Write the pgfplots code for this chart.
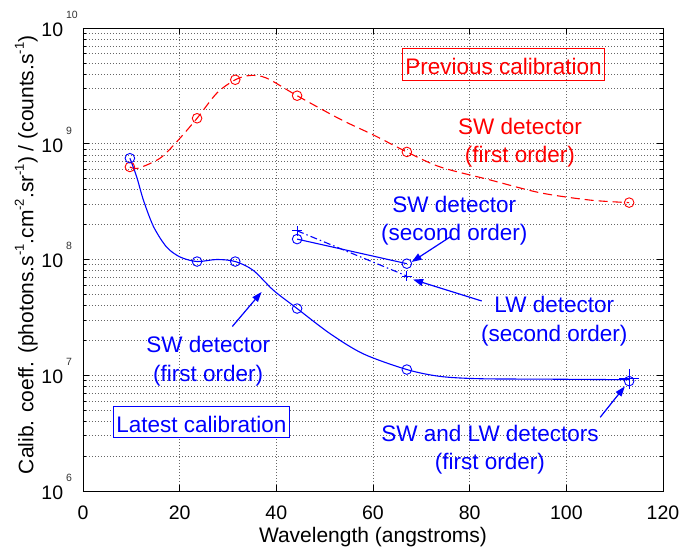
\documentclass[border=0pt]{standalone}
\usepackage{fontspec}
\setmainfont{Liberation Sans}
\usepackage{pgfplots}
\pgfplotsset{compat=1.18}
\usetikzlibrary{arrows.meta}

\definecolor{mred}{RGB}{255,0,0}
\definecolor{mblue}{RGB}{0,0,255}

% 10 with a raised exponent, hung to the right of the label anchor
\newcommand{\expo}[1]{10\rlap{\hspace{3pt}\raisebox{18pt}{\fontsize{10.5}{10.5}\selectfont\color{black!80}#1}}}
\newcommand{\sps}[1]{\raisebox{0.45em}{\fontsize{13}{13}\selectfont #1}}
\newcommand{\ann}{\fontsize{22.5}{27}\selectfont}

\begin{document}
\begin{tikzpicture}
\begin{axis}[
  width=580pt, height=463pt, scale only axis,
  xmin=0, xmax=120, ymin=1e6, ymax=1e10,
  ymode=log, log basis y=10,
  xtick={0,20,...,120},
  ytick={1e6,1e7,1e8,1e9,1e10},
  yticklabels={\expo{6},\expo{7},\expo{8},\expo{9},\expo{10}},
  minor ytick={2e6,3e6,4e6,5e6,6e6,7e6,8e6,9e6,
               2e7,3e7,4e7,5e7,6e7,7e7,8e7,9e7,
               2e8,3e8,4e8,5e8,6e8,7e8,8e8,9e8,
               2e9,3e9,4e9,5e9,6e9,7e9,8e9,9e9},
  /pgf/number format/assume math mode=true,
  ticklabel style={font=\fontsize{19.5}{20}\selectfont, inner sep=0pt},
  xticklabel style={anchor=base, yshift=-29pt},
  yticklabel style={anchor=base east, yshift=-8.5pt, xshift=-19.7pt},
  tick align=inside,
  major tick length=6pt, minor tick length=3pt,
  tick style={black, line width=0.6pt},
  axis line style={black, line width=0.8pt},
  grid=both,
  major grid style={black!60, line width=0.6pt, dash pattern=on 1pt off 2pt},
  minor grid style={black!60, line width=0.6pt, dash pattern=on 1pt off 2pt},
  label style={font=\fontsize{21}{24}\selectfont},
  xlabel={Wavelength (angstroms)},
  ylabel={Calib. coeff. (photons.s\sps{-1}.cm\sps{-2}.sr\sps{-1}) / (counts.s\sps{-1})},
  xlabel style={at={(axis description cs:0.5,-0.1123)}, anchor=base},
  ylabel style={at={(axis description cs:-0.0857,0.51)}, anchor=base},
  clip=false,
]

% previous calibration, SW detector first order (curve)
\addplot[mred, line width=1.1pt, dash pattern=on 9pt off 5pt, smooth] coordinates {
  (9.7,6.3e8) (11.4,6.14e8) (15.9,7.48e8) (19.4,1.04e9) (23.6,1.66e9)
  (27.7,2.74e9) (31.5,3.57e9) (34.6,3.89e9) (38.0,3.69e9) (44.3,2.6e9)
  (53.2,1.63e9) (60.1,1.19e9) (67.0,8.5e8) (73.9,6.3e8) (84.2,4.87e8)
  (94.6,3.77e8) (104.9,3.26e8) (113.0,3.1e8)};
\addplot[mred, only marks, mark=o, mark size=4.8pt, line width=0.9pt] coordinates {
  (9.7,6.3e8) (23.6,1.66e9) (31.5,3.57e9) (44.3,2.6e9) (67.0,8.5e8) (113.0,3.1e8)};

% latest calibration, SW/LW first order
\addplot[mblue, line width=1.1pt, smooth] coordinates {
  (9.7,7.5e8) (11.1,5.19e8) (12.5,3.26e8) (14.6,1.92e8) (17.3,1.28e8)
  (20.1,1.05e8) (23.6,9.6e7) (27.7,1.0e8) (31.5,9.6e7) (35.2,8.07e7)
  (39.4,5.42e7) (44.3,3.77e7) (51.1,2.29e7) (58.0,1.53e7) (67.0,1.12e7)
  (73.9,9.77e6) (82.1,9.33e6) (95.9,9.25e6) (113.0,9.15e6)};
\addplot[mblue, only marks, mark=o, mark size=4.8pt, line width=0.9pt] coordinates {
  (9.7,7.5e8) (23.6,9.6e7) (31.5,9.6e7) (44.3,3.77e7) (67.0,1.12e7) (113.0,8.9e6)};
\addplot[mblue, only marks, mark=+, mark size=10pt, line width=0.9pt] coordinates {
  (113.0,9.3e6)};

% second order
\addplot[mblue, line width=1.1pt, mark=o, mark size=4.8pt, mark options={line width=0.9pt}] coordinates {
  (44.3,1.5e8) (67.0,9.2e7)};
\addplot[mblue, line width=1.1pt, dash pattern=on 7pt off 3pt on 1.5pt off 3pt,
  mark=+, mark size=5pt, mark options={solid, line width=0.9pt}] coordinates {
  (44.3,1.77e8) (67.0,7.2e7)};

% annotations
\node[text=mred, draw=mred, line width=0.9pt, font=\ann, anchor=base,
  inner xsep=2.5pt, inner ysep=0pt, text height=26pt, text depth=6pt]
  at (axis cs:87.0,3.94e9) {Previous calibration};
\node[text=mred, font=\ann, anchor=base] at (axis cs:90.4,1.21e9) {SW detector};
\node[text=mred, font=\ann, anchor=base] at (axis cs:90.4,6.84e8) {(first order)};

\node[text=mblue, font=\ann, anchor=base] at (axis cs:76.8,2.55e8) {SW detector};
\node[text=mblue, font=\ann, anchor=base] at (axis cs:76.8,1.45e8) {(second order)};
\node[text=mblue, font=\ann, anchor=base] at (axis cs:97.5,3.48e7) {LW detector};
\node[text=mblue, font=\ann, anchor=base] at (axis cs:97.5,1.96e7) {(second order)};
\node[text=mblue, font=\ann, anchor=base] at (axis cs:25.9,1.585e7) {SW detector};
\node[text=mblue, font=\ann, anchor=base] at (axis cs:25.9,8.89e6) {(first order)};
\node[text=mblue, font=\ann, anchor=base] at (axis cs:84.2,2.69e6) {SW and LW detectors};
\node[text=mblue, font=\ann, anchor=base] at (axis cs:84.2,1.52e6) {(first order)};
\node[text=mblue, draw=mblue, line width=0.9pt, font=\ann, anchor=base, fill=white,
  inner xsep=2.5pt, inner ysep=0pt, text height=26pt, text depth=5pt]
  at (axis cs:24.5,3.21e6) {Latest calibration};

\begin{scope}[mblue, line width=1.2pt, -{Triangle[length=10pt,width=7pt]}]
\draw (axis cs:76.0,1.57e8) -- (axis cs:68.0,9.52e7);
\draw (axis cs:82.5,4.38e7) -- (axis cs:68.3,6.71e7);
\draw (axis cs:30.9,2.64e7) -- (axis cs:36.95,5.24e7);
\draw (axis cs:107.0,4.33e6) -- (axis cs:112.1,8.0e6);
\end{scope}
\end{axis}
\pgfresetboundingbox
\path (-83pt,-60pt) rectangle (600pt,491pt);
\end{tikzpicture}
\end{document}
